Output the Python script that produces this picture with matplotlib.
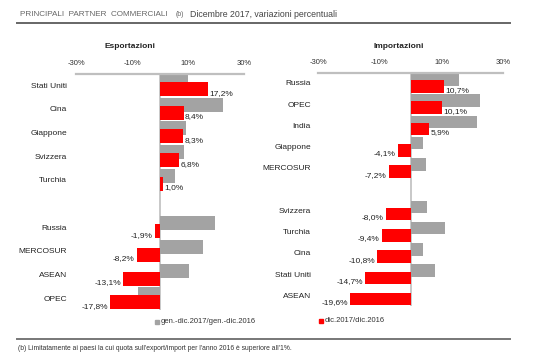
import numpy as np
import matplotlib
matplotlib.use('Agg')
import matplotlib.pyplot as plt
from matplotlib.patches import Rectangle

plt.rcParams['font.family'] = ['Liberation Sans', 'DejaVu Sans']

# Esportazioni (None = riga vuota)
exp_paesi = ['Stati Uniti', 'Cina', 'Giappone', 'Svizzera', 'Turchia', None,
             'Russia', 'MERCOSUR', 'ASEAN', 'OPEC']
exp_anno = [9.9, 22.5, 9.2, 8.7, 5.2, None, 19.5, 15.5, 10.4, -8.0]
exp_dic = [17.2, 8.4, 8.3, 6.8, 1.0, None, -1.9, -8.2, -13.1, -17.8]

# Importazioni
imp_paesi = ['Russia', 'OPEC', 'India', 'Giappone', 'MERCOSUR', None,
             'Svizzera', 'Turchia', 'Cina', 'Stati Uniti', 'ASEAN']
imp_anno = [15.7, 22.6, 21.5, 4.1, 4.8, None, 5.3, 11.2, 3.9, 7.8, 0.0]
imp_dic = [10.7, 10.1, 5.9, -4.1, -7.2, None, -8.0, -9.4, -10.8, -14.7, -19.6]

ticks = [-30, -10, 10, 30]
tick_labels = ['-30%', '-10%', '10%', '30%']

GRAY = '#a3a3a3'
RED = '#ff0000'
h = 0.59
d = 0.34

fig = plt.figure(figsize=(5.4, 3.63), dpi=100)
W, H = 540, 363


def panel(rect_px, paesi, anno, dic, pad):
    x0, y0, x1, y1 = rect_px
    ax = fig.add_axes([x0 / W, 1 - y1 / H, (x1 - x0) / W, (y1 - y0) / H])
    n = len(paesi)
    rows = [i for i in range(n) if paesi[i] is not None]
    ax.barh([i - d / 2 for i in rows], [anno[i] for i in rows], height=h,
            color=GRAY, zorder=2)
    ax.barh([i + d / 2 for i in rows], [dic[i] for i in rows], height=h,
            color=RED, zorder=3)
    for i in rows:
        v = dic[i]
        s = f'{v:.1f}'.replace('.', ',') + '%'
        if v >= 0:
            ax.text(v + 0.4, i + d / 2 + 0.17, s, ha='left', va='center',
                    fontsize=6, color='#222222', zorder=4)
        else:
            ax.text(v - 0.8, i + d / 2 + 0.17, s, ha='right', va='center',
                    fontsize=6, color='#222222', zorder=4)
    ax.set_xlim(-30, 30)
    ax.set_ylim(n - 1 + d / 2 + h / 2 + 0.03, -d / 2 - h / 2)
    ax.set_yticks(rows)
    ax.set_yticklabels([paesi[i] for i in rows], fontsize=6, color='#222222')
    ax.tick_params(axis='y', length=0, pad=pad)
    ax.xaxis.tick_top()
    ax.set_xticks(ticks)
    ax.set_xticklabels(tick_labels, fontsize=5.5, color='#333333')
    ax.tick_params(axis='x', length=0, pad=5)
    for sp in ['left', 'right', 'bottom']:
        ax.spines[sp].set_visible(False)
    ax.spines['top'].set_color('#bfbfbf')
    ax.spines['top'].set_linewidth(1.6)
    ax.axvline(0, color='#bfbfbf', lw=1.2, zorder=1)
    ax.set_facecolor('none')
    return ax


panel((76, 74, 244, 310), exp_paesi, exp_anno, exp_dic, 6.5)
panel((318.3, 73, 503.3, 306), imp_paesi, imp_anno, imp_dic, 5.3)

# titoli
fig.text(20 / W, 1 - 15 / H, 'PRINCIPALI  PARTNER  COMMERCIALI', fontsize=5.85,
         color='#666666', va='center', ha='left')
fig.text(176 / W, 1 - 15 / H, '(b)', fontsize=5, color='#666666',
         va='center', ha='left')
fig.text(189.5 / W, 1 - 14.5 / H, 'Dicembre 2017, variazioni percentuali',
         fontsize=6.3, color='#444444', va='center', ha='left')
fig.add_artist(plt.Line2D([17 / W, 510 / W], [1 - 23 / H, 1 - 23 / H],
                          color='#666666', lw=1.4))

fig.text(129.5 / W, 1 - 46 / H, 'Esportazioni', fontsize=6, fontweight='bold',
         ha='center', va='center', color='#222222')
fig.text(399 / W, 1 - 46 / H, 'Importazioni', fontsize=6, fontweight='bold',
         ha='center', va='center', color='#222222')

# legende
fig.add_artist(Rectangle((155 / W, 1 - 323.5 / H), 4 / W, 4 / H,
                         transform=fig.transFigure, color=GRAY))
fig.text(161 / W, 1 - 321.5 / H, 'gen.-dic.2017/gen.-dic.2016', fontsize=5.5,
         color='#333333', va='center', ha='left')
fig.add_artist(Rectangle((319 / W, 1 - 322.5 / H), 4 / W, 4 / H,
                         transform=fig.transFigure, color=RED))
fig.text(325 / W, 1 - 320.5 / H, 'dic.2017/dic.2016', fontsize=5.5,
         color='#333333', va='center', ha='left')

# nota
fig.add_artist(plt.Line2D([17 / W, 510 / W], [1 - 338.5 / H, 1 - 338.5 / H],
                          color='#777777', lw=1.4))
fig.text(18 / W, 1 - 348.5 / H,
         "(b) Limitatamente ai paesi la cui quota sull'export/import per l'anno 2016 è superiore all'1%.",
         fontsize=4.9, color='#333333', va='center', ha='left')

fig.savefig('out.png', dpi=100)
